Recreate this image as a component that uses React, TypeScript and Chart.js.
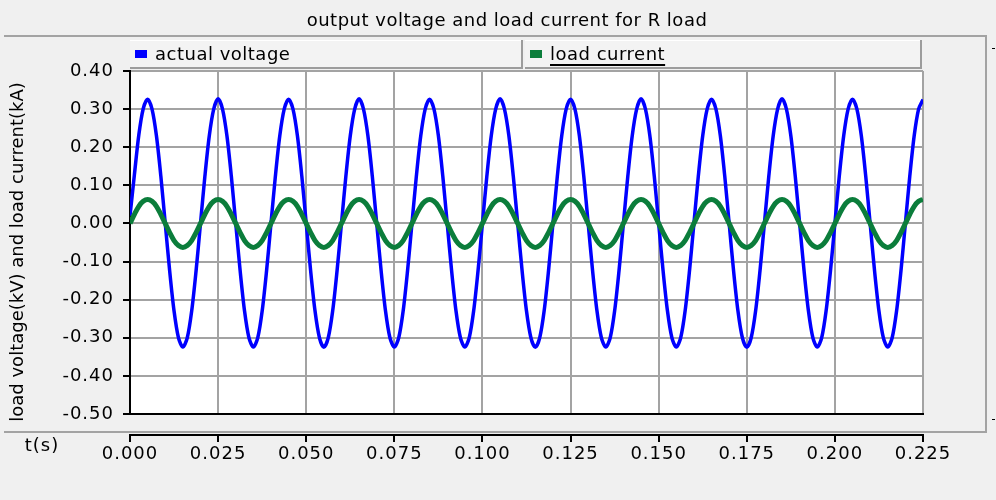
import { useEffect, useRef } from "react";
import { Chart, registerables } from "chart.js";

Chart.register(...registerables);

const chartTitle = "output voltage and load current for R load";
const yAxisTitle = "load voltage(kV) and load current(kA)";
const xAxisTitle = "t(s)";
const seriesNames = ["actual voltage", "load current"];

// sample times (s)
const timeS = [
  0, 0.00125, 0.0025, 0.00375, 0.005, 0.00625, 0.0075, 0.00875, 0.01, 0.01125, 0.0125, 0.01375, 0.015, 0.01625, 0.0175, 0.01875,
  0.02, 0.02125, 0.0225, 0.02375, 0.025, 0.02625, 0.0275, 0.02875, 0.03, 0.03125, 0.0325, 0.03375, 0.035, 0.03625, 0.0375, 0.03875,
  0.04, 0.04125, 0.0425, 0.04375, 0.045, 0.04625, 0.0475, 0.04875, 0.05, 0.05125, 0.0525, 0.05375, 0.055, 0.05625, 0.0575, 0.05875,
  0.06, 0.06125, 0.0625, 0.06375, 0.065, 0.06625, 0.0675, 0.06875, 0.07, 0.07125, 0.0725, 0.07375, 0.075, 0.07625, 0.0775, 0.07875,
  0.08, 0.08125, 0.0825, 0.08375, 0.085, 0.08625, 0.0875, 0.08875, 0.09, 0.09125, 0.0925, 0.09375, 0.095, 0.09625, 0.0975, 0.09875,
  0.1, 0.10125, 0.1025, 0.10375, 0.105, 0.10625, 0.1075, 0.10875, 0.11, 0.11125, 0.1125, 0.11375, 0.115, 0.11625, 0.1175, 0.11875,
  0.12, 0.12125, 0.1225, 0.12375, 0.125, 0.12625, 0.1275, 0.12875, 0.13, 0.13125, 0.1325, 0.13375, 0.135, 0.13625, 0.1375, 0.13875,
  0.14, 0.14125, 0.1425, 0.14375, 0.145, 0.14625, 0.1475, 0.14875, 0.15, 0.15125, 0.1525, 0.15375, 0.155, 0.15625, 0.1575, 0.15875,
  0.16, 0.16125, 0.1625, 0.16375, 0.165, 0.16625, 0.1675, 0.16875, 0.17, 0.17125, 0.1725, 0.17375, 0.175, 0.17625, 0.1775, 0.17875,
  0.18, 0.18125, 0.1825, 0.18375, 0.185, 0.18625, 0.1875, 0.18875, 0.19, 0.19125, 0.1925, 0.19375, 0.195, 0.19625, 0.1975, 0.19875,
  0.2, 0.20125, 0.2025, 0.20375, 0.205, 0.20625, 0.2075, 0.20875, 0.21, 0.21125, 0.2125, 0.21375, 0.215, 0.21625, 0.2175, 0.21875,
  0.22, 0.22125, 0.2225, 0.22375, 0.225,
];

// load voltage (kV)
const voltageKV = [
  0.02, 0.128, 0.232, 0.301, 0.326, 0.3, 0.23, 0.124, 0, -0.124, -0.23, -0.3, -0.324, -0.3, -0.23, -0.124,
  0, 0.124, 0.23, 0.3, 0.327, 0.3, 0.23, 0.124, 0, -0.124, -0.23, -0.3, -0.324, -0.3, -0.23, -0.124,
  0, 0.124, 0.23, 0.3, 0.326, 0.3, 0.23, 0.124, 0, -0.124, -0.23, -0.3, -0.325, -0.3, -0.23, -0.124,
  0, 0.124, 0.23, 0.3, 0.327, 0.3, 0.23, 0.124, 0, -0.124, -0.23, -0.3, -0.324, -0.3, -0.23, -0.124,
  0, 0.124, 0.23, 0.3, 0.326, 0.3, 0.23, 0.124, 0, -0.124, -0.23, -0.3, -0.324, -0.3, -0.23, -0.124,
  0, 0.124, 0.23, 0.3, 0.327, 0.3, 0.23, 0.124, 0, -0.124, -0.23, -0.3, -0.325, -0.3, -0.23, -0.124,
  0, 0.124, 0.23, 0.3, 0.326, 0.3, 0.23, 0.124, 0, -0.124, -0.23, -0.3, -0.324, -0.3, -0.23, -0.124,
  0, 0.124, 0.23, 0.3, 0.327, 0.3, 0.23, 0.124, 0, -0.124, -0.23, -0.3, -0.324, -0.3, -0.23, -0.124,
  0, 0.124, 0.23, 0.3, 0.326, 0.3, 0.23, 0.124, 0, -0.124, -0.23, -0.3, -0.325, -0.3, -0.23, -0.124,
  0, 0.124, 0.23, 0.3, 0.327, 0.3, 0.23, 0.124, 0, -0.124, -0.23, -0.3, -0.324, -0.3, -0.23, -0.124,
  0, 0.124, 0.23, 0.3, 0.326, 0.3, 0.23, 0.124, 0, -0.124, -0.23, -0.3, -0.324, -0.3, -0.23, -0.124,
  0, 0.124, 0.23, 0.3, 0.325,
];

// load current (kA)
const currentKA = [
  0, 0.024, 0.045, 0.058, 0.063, 0.058, 0.045, 0.024, 0, -0.024, -0.045, -0.058, -0.063, -0.058, -0.045, -0.024,
  0, 0.024, 0.045, 0.058, 0.063, 0.058, 0.045, 0.024, 0, -0.024, -0.045, -0.058, -0.063, -0.058, -0.045, -0.024,
  0, 0.024, 0.045, 0.058, 0.063, 0.058, 0.045, 0.024, 0, -0.024, -0.045, -0.058, -0.063, -0.058, -0.045, -0.024,
  0, 0.024, 0.045, 0.058, 0.063, 0.058, 0.045, 0.024, 0, -0.024, -0.045, -0.058, -0.063, -0.058, -0.045, -0.024,
  0, 0.024, 0.045, 0.058, 0.063, 0.058, 0.045, 0.024, 0, -0.024, -0.045, -0.058, -0.063, -0.058, -0.045, -0.024,
  0, 0.024, 0.045, 0.058, 0.063, 0.058, 0.045, 0.024, 0, -0.024, -0.045, -0.058, -0.063, -0.058, -0.045, -0.024,
  0, 0.024, 0.045, 0.058, 0.063, 0.058, 0.045, 0.024, 0, -0.024, -0.045, -0.058, -0.063, -0.058, -0.045, -0.024,
  0, 0.024, 0.045, 0.058, 0.063, 0.058, 0.045, 0.024, 0, -0.024, -0.045, -0.058, -0.063, -0.058, -0.045, -0.024,
  0, 0.024, 0.045, 0.058, 0.063, 0.058, 0.045, 0.024, 0, -0.024, -0.045, -0.058, -0.063, -0.058, -0.045, -0.024,
  0, 0.024, 0.045, 0.058, 0.063, 0.058, 0.045, 0.024, 0, -0.024, -0.045, -0.058, -0.063, -0.058, -0.045, -0.024,
  0, 0.024, 0.045, 0.058, 0.063, 0.058, 0.045, 0.024, 0, -0.024, -0.045, -0.058, -0.063, -0.058, -0.045, -0.024,
  0, 0.024, 0.045, 0.058, 0.063,
];

const xTicks = [0, 0.025, 0.05, 0.075, 0.1, 0.125, 0.15, 0.175, 0.2, 0.225];
const yTicks = [-0.5, -0.4, -0.3, -0.2, -0.1, 0, 0.1, 0.2, 0.3, 0.4];

const FONT = '"DejaVu Sans", Verdana, sans-serif';
const FONT_SIZE = 18;
const TICK_SPACING = "1px";
const VOLT_COLOR = "#0000ff";
const CURR_COLOR = "#0b7d3b";
const GRID = "#a3a3a3";
const PANEL = "#f0f0f0";

const W = 996;
const H = 500;

const framePlugin = {
  id: "frame",
  beforeLayout(chart: any) {
    chart.ctx.letterSpacing = TICK_SPACING;
  },
  beforeDraw(chart: any) {
    const { ctx, chartArea: a } = chart;
    ctx.save();
    ctx.fillStyle = PANEL;
    ctx.fillRect(0, 0, W, H);

    // title
    ctx.fillStyle = "#000";
    ctx.font = `${FONT_SIZE}px ${FONT}`;
    ctx.letterSpacing = "0.5px";
    ctx.textAlign = "center";
    ctx.textBaseline = "middle";
    ctx.fillText(chartTitle, 507, 21);

    // panel rules
    ctx.fillStyle = GRID;
    ctx.fillRect(4, 35, 983, 2);
    ctx.fillRect(985, 37, 2, 396);
    ctx.fillRect(4, 431, 983, 2);
    ctx.fillStyle = "#000";
    ctx.fillRect(992, 48, 3, 1);
    ctx.fillRect(992, 419, 3, 1);

    // legend boxes
    const colors = [VOLT_COLOR, CURR_COLOR];
    const mid = 524;
    const boxes = [
      [a.left, mid - 1],
      [mid + 1, a.right - 1],
    ];
    ctx.letterSpacing = "0.5px";
    boxes.forEach(([x0, x1], i) => {
      ctx.fillStyle = "#f3f3f3";
      ctx.fillRect(x0, 40, x1 - x0, 29);
      ctx.fillStyle = "#9c9c9c";
      ctx.fillRect(x1 - 2, 40, 2, 29);
      ctx.fillRect(x0, 67, x1 - x0, 2);
      ctx.fillStyle = "#ffffff";
      ctx.fillRect(x0, 40, x1 - x0 - 2, 1);
      ctx.fillStyle = colors[i];
      ctx.fillRect(x0 + 5, 50, 12, 8);
      ctx.fillStyle = "#000";
      ctx.textAlign = "left";
      ctx.textBaseline = "middle";
      const tx = x0 + 25;
      ctx.fillText(seriesNames[i], tx, 55);
      if (i === 1) {
        const w = ctx.measureText(seriesNames[i]).width;
        ctx.fillRect(tx, 64, w, 2);
      }
    });

    // plot background
    ctx.fillStyle = "#ffffff";
    ctx.fillRect(a.left, a.top, a.right - a.left, a.bottom - a.top);
    ctx.restore();
    ctx.letterSpacing = TICK_SPACING;
  },
  afterDraw(chart: any) {
    const { ctx, chartArea: a } = chart;
    const xs = chart.scales.x;
    ctx.save();
    // detached time axis
    ctx.fillStyle = "#000";
    ctx.fillRect(a.left - 1, 434, a.right - a.left + 2, 2);
    xTicks.forEach((v) => {
      const px = Math.round(xs.getPixelForValue(v));
      ctx.fillRect(px - 1, 434, 2, 8);
    });
    ctx.font = `${FONT_SIZE}px ${FONT}`;
    ctx.letterSpacing = "1px";
    ctx.textAlign = "center";
    ctx.textBaseline = "middle";
    ctx.fillText(xAxisTitle, 42, 446);

    // vertical axis title
    ctx.letterSpacing = "0px";
    ctx.translate(18, 252);
    ctx.rotate(-Math.PI / 2);
    ctx.fillText(yAxisTitle, 0, 0);
    ctx.restore();
  },
};

export default function App() {
  const canvasRef = useRef<HTMLCanvasElement | null>(null);

  useEffect(() => {
    const canvas = canvasRef.current;
    if (!canvas) return;
    const chart = new Chart(canvas, {
      type: "line",
      data: {
        datasets: [
          {
            label: seriesNames[0],
            data: timeS.map((t, i) => ({ x: t, y: voltageKV[i] })),
            borderColor: VOLT_COLOR,
            backgroundColor: VOLT_COLOR,
            borderWidth: 3.5,
            pointRadius: 0,
            tension: 0.3,
            order: 1,
          },
          {
            label: seriesNames[1],
            data: timeS.map((t, i) => ({ x: t, y: currentKA[i] })),
            borderColor: CURR_COLOR,
            backgroundColor: CURR_COLOR,
            borderWidth: 5,
            pointRadius: 0,
            tension: 0.3,
            order: 0,
          },
        ],
      },
      options: {
        animation: false,
        responsive: false,
        devicePixelRatio: 1,
        events: [],
        layout: { padding: { top: 71, right: 73, left: 0, bottom: 0 } },
        plugins: {
          legend: { display: false },
          tooltip: { enabled: false },
          title: { display: false },
        },
        scales: {
          x: {
            type: "linear",
            min: 0,
            max: 0.225,
            afterFit: (s: any) => {
              s.height = 86;
            },
            afterBuildTicks: (s: any) => {
              s.ticks = xTicks.map((v) => ({ value: v }));
            },
            border: { color: "#000", width: 2 },
            grid: { color: GRID, lineWidth: 2, drawTicks: false },
            ticks: {
              color: "#000",
              padding: 30,
              maxRotation: 0,
              autoSkip: false,
              font: { family: FONT, size: FONT_SIZE },
              callback: (v: any) => Number(v).toFixed(3),
            },
          },
          y: {
            type: "linear",
            min: -0.5,
            max: 0.4,
            afterFit: (s: any) => {
              s.width = 130;
            },
            afterBuildTicks: (s: any) => {
              s.ticks = yTicks.map((v) => ({ value: v }));
            },
            border: { color: "#000", width: 2 },
            grid: {
              color: GRID,
              lineWidth: 2,
              tickColor: "#000",
              tickLength: 7,
            },
            ticks: {
              color: "#000",
              padding: 9,
              autoSkip: false,
              font: { family: FONT, size: FONT_SIZE },
              callback: (v: any) => Number(v).toFixed(2),
            },
          },
        },
      },
      plugins: [framePlugin],
    });
    return () => chart.destroy();
  }, []);

  return (
    <div style={{ position: "fixed", left: 0, top: 0, width: W, height: H }}>
      <canvas ref={canvasRef} width={W} height={H} style={{ display: "block" }} />
    </div>
  );
}
